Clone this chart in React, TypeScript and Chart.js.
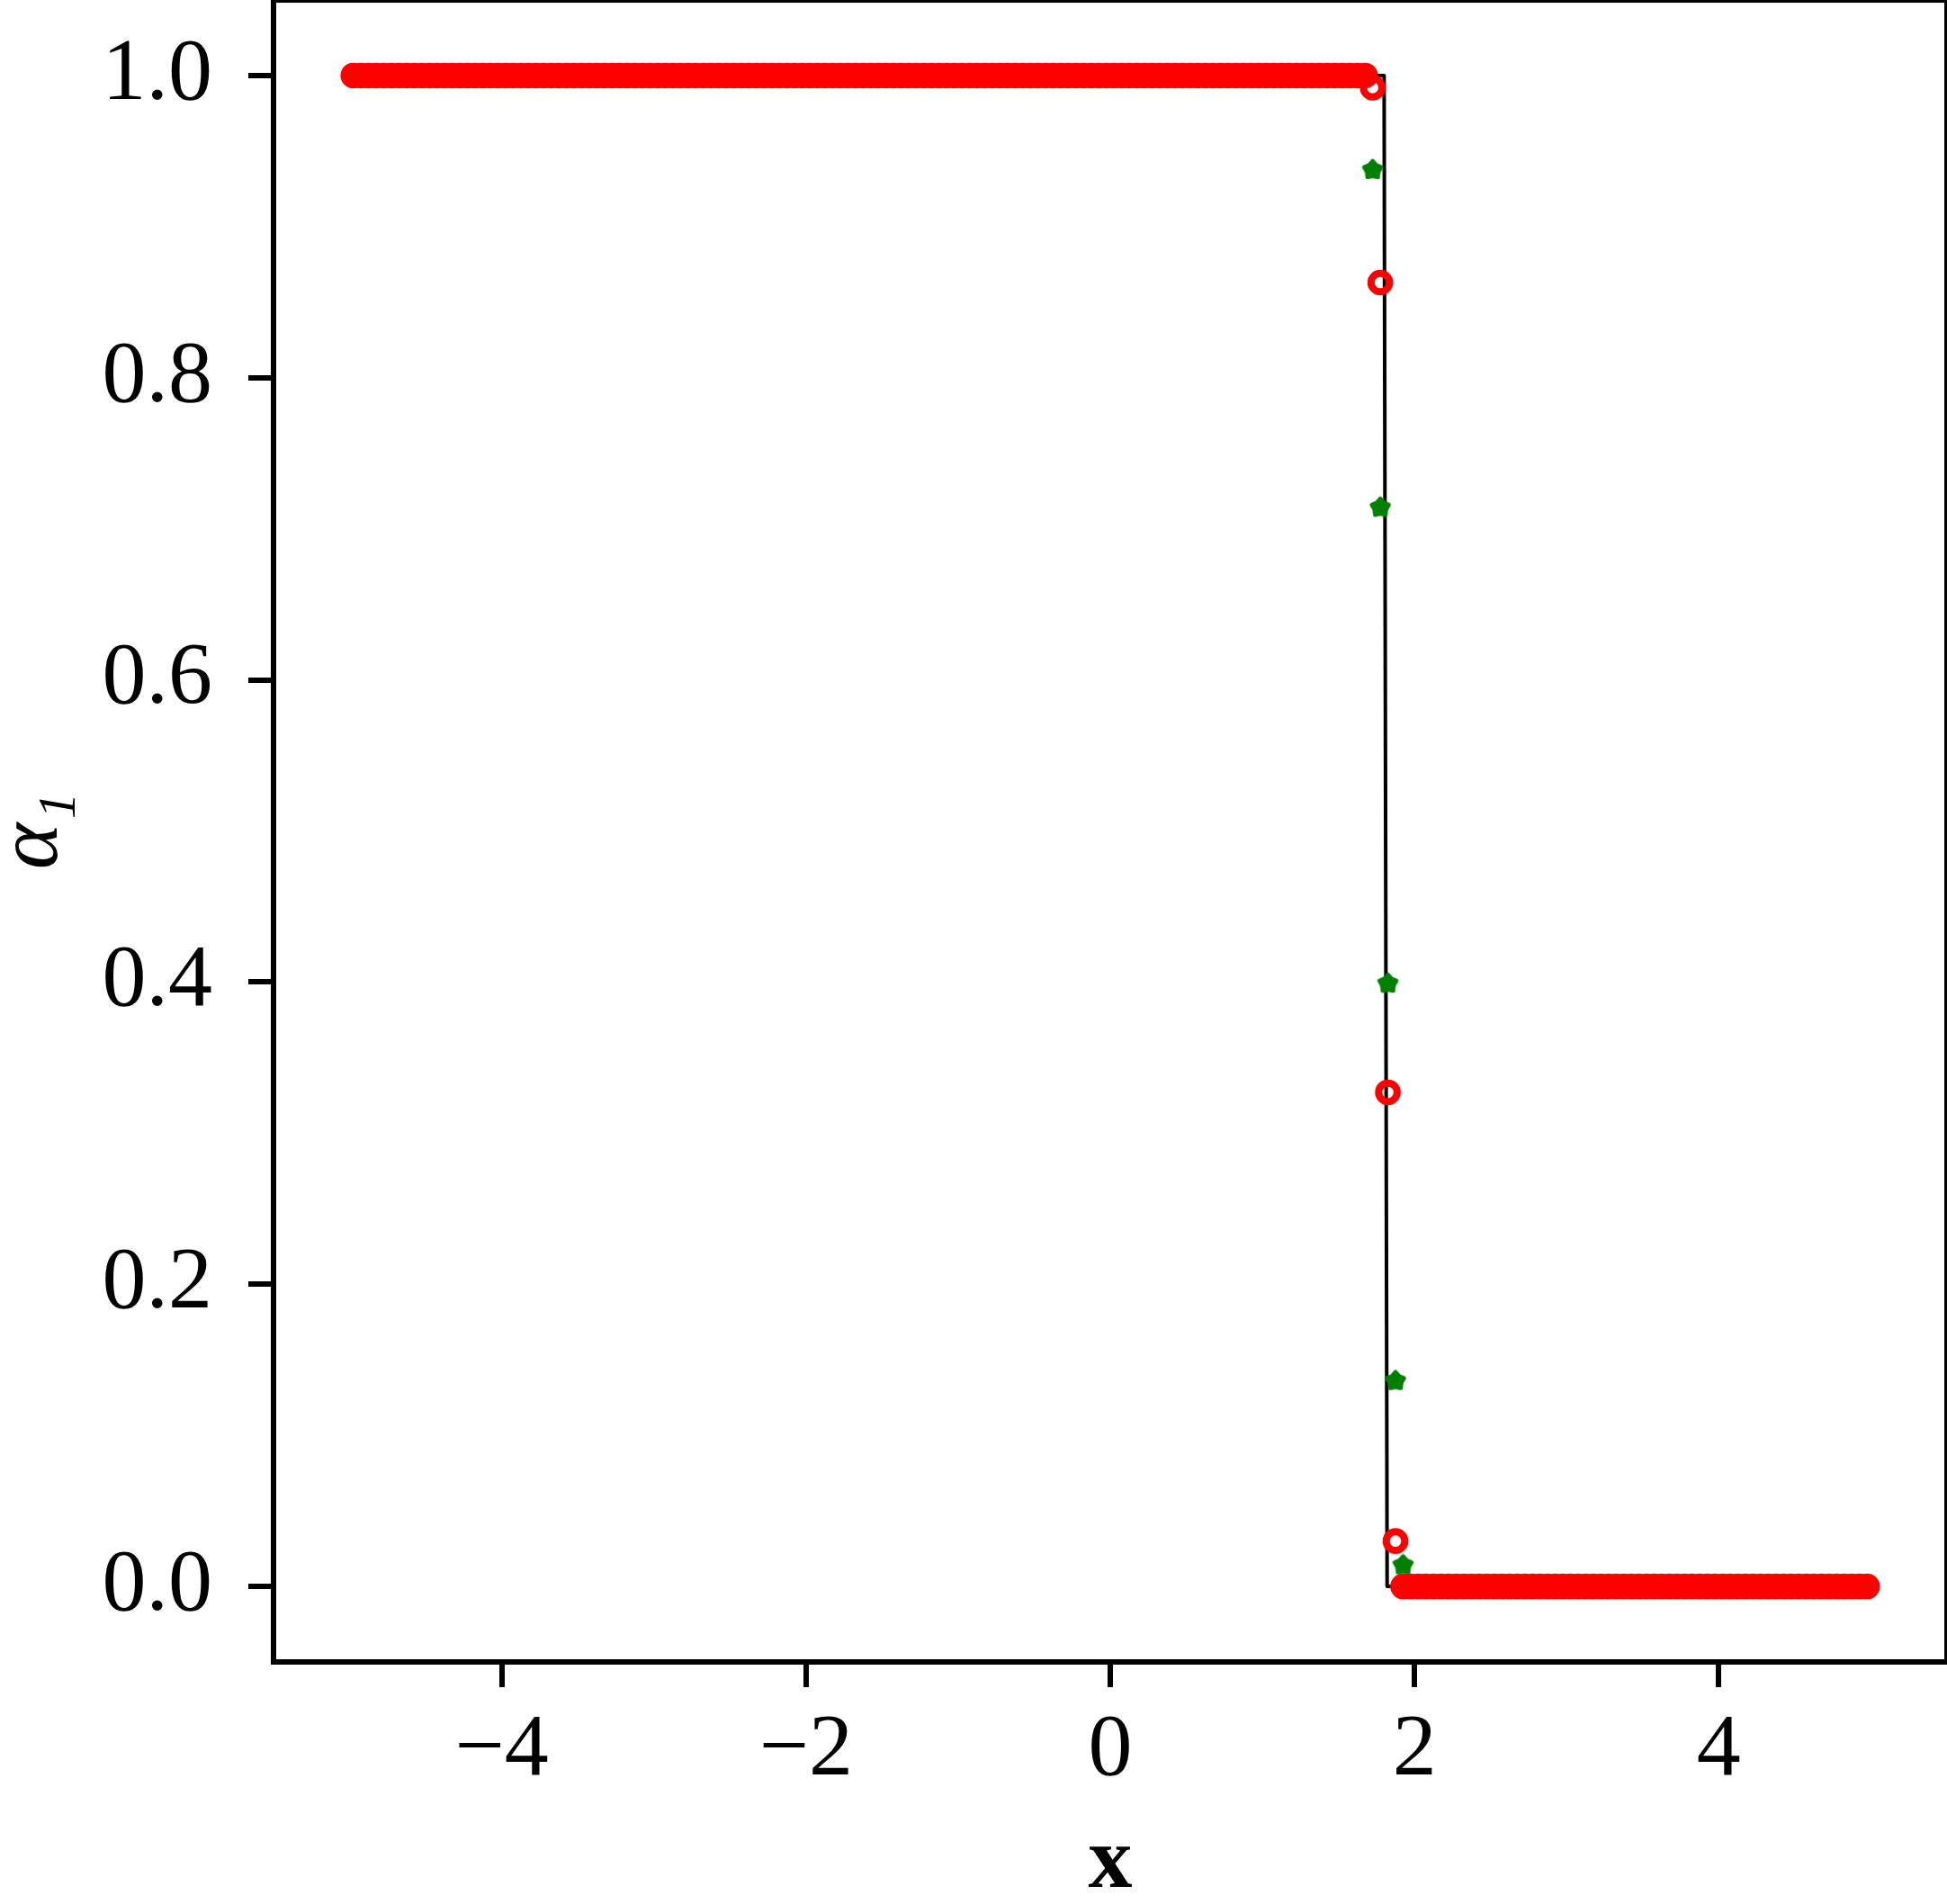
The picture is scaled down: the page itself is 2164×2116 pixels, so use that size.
import React, { useEffect, useRef } from "react";
import { Chart, registerables } from "chart.js";

Chart.register(...registerables);

// Cell centres of the numerical grid
const cellX = [
  -4.975, -4.925, -4.875, -4.825, -4.775, -4.725, -4.675, -4.625, -4.575, -4.525,
  -4.475, -4.425, -4.375, -4.325, -4.275, -4.225, -4.175, -4.125, -4.075, -4.025,
  -3.975, -3.925, -3.875, -3.825, -3.775, -3.725, -3.675, -3.625, -3.575, -3.525,
  -3.475, -3.425, -3.375, -3.325, -3.275, -3.225, -3.175, -3.125, -3.075, -3.025,
  -2.975, -2.925, -2.875, -2.825, -2.775, -2.725, -2.675, -2.625, -2.575, -2.525,
  -2.475, -2.425, -2.375, -2.325, -2.275, -2.225, -2.175, -2.125, -2.075, -2.025,
  -1.975, -1.925, -1.875, -1.825, -1.775, -1.725, -1.675, -1.625, -1.575, -1.525,
  -1.475, -1.425, -1.375, -1.325, -1.275, -1.225, -1.175, -1.125, -1.075, -1.025,
  -0.975, -0.925, -0.875, -0.825, -0.775, -0.725, -0.675, -0.625, -0.575, -0.525,
  -0.475, -0.425, -0.375, -0.325, -0.275, -0.225, -0.175, -0.125, -0.075, -0.025,
  0.025, 0.075, 0.125, 0.175, 0.225, 0.275, 0.325, 0.375, 0.425, 0.475,
  0.525, 0.575, 0.625, 0.675, 0.725, 0.775, 0.825, 0.875, 0.925, 0.975,
  1.025, 1.075, 1.125, 1.175, 1.225, 1.275, 1.325, 1.375, 1.425, 1.475,
  1.525, 1.575, 1.625, 1.675, 1.725, 1.775, 1.825, 1.875, 1.925, 1.975,
  2.025, 2.075, 2.125, 2.175, 2.225, 2.275, 2.325, 2.375, 2.425, 2.475,
  2.525, 2.575, 2.625, 2.675, 2.725, 2.775, 2.825, 2.875, 2.925, 2.975,
  3.025, 3.075, 3.125, 3.175, 3.225, 3.275, 3.325, 3.375, 3.425, 3.475,
  3.525, 3.575, 3.625, 3.675, 3.725, 3.775, 3.825, 3.875, 3.925, 3.975,
  4.025, 4.075, 4.125, 4.175, 4.225, 4.275, 4.325, 4.375, 4.425, 4.475,
  4.525, 4.575, 4.625, 4.675, 4.725, 4.775, 4.825, 4.875, 4.925, 4.975,
];

// Red open circles
const alphaRed = [
  1, 1, 1, 1, 1, 1, 1, 1, 1, 1,
  1, 1, 1, 1, 1, 1, 1, 1, 1, 1,
  1, 1, 1, 1, 1, 1, 1, 1, 1, 1,
  1, 1, 1, 1, 1, 1, 1, 1, 1, 1,
  1, 1, 1, 1, 1, 1, 1, 1, 1, 1,
  1, 1, 1, 1, 1, 1, 1, 1, 1, 1,
  1, 1, 1, 1, 1, 1, 1, 1, 1, 1,
  1, 1, 1, 1, 1, 1, 1, 1, 1, 1,
  1, 1, 1, 1, 1, 1, 1, 1, 1, 1,
  1, 1, 1, 1, 1, 1, 1, 1, 1, 1,
  1, 1, 1, 1, 1, 1, 1, 1, 1, 1,
  1, 1, 1, 1, 1, 1, 1, 1, 1, 1,
  1, 1, 1, 1, 1, 1, 1, 1, 1, 1,
  1, 1, 1, 1, 0.992, 0.863, 0.327, 0.03, 0, 0,
  0, 0, 0, 0, 0, 0, 0, 0, 0, 0,
  0, 0, 0, 0, 0, 0, 0, 0, 0, 0,
  0, 0, 0, 0, 0, 0, 0, 0, 0, 0,
  0, 0, 0, 0, 0, 0, 0, 0, 0, 0,
  0, 0, 0, 0, 0, 0, 0, 0, 0, 0,
  0, 0, 0, 0, 0, 0, 0, 0, 0, 0,
];

// Green stars
const alphaGreen = [
  1, 1, 1, 1, 1, 1, 1, 1, 1, 1,
  1, 1, 1, 1, 1, 1, 1, 1, 1, 1,
  1, 1, 1, 1, 1, 1, 1, 1, 1, 1,
  1, 1, 1, 1, 1, 1, 1, 1, 1, 1,
  1, 1, 1, 1, 1, 1, 1, 1, 1, 1,
  1, 1, 1, 1, 1, 1, 1, 1, 1, 1,
  1, 1, 1, 1, 1, 1, 1, 1, 1, 1,
  1, 1, 1, 1, 1, 1, 1, 1, 1, 1,
  1, 1, 1, 1, 1, 1, 1, 1, 1, 1,
  1, 1, 1, 1, 1, 1, 1, 1, 1, 1,
  1, 1, 1, 1, 1, 1, 1, 1, 1, 1,
  1, 1, 1, 1, 1, 1, 1, 1, 1, 1,
  1, 1, 1, 1, 1, 1, 1, 1, 1, 1,
  1, 1, 1, 1, 0.9375, 0.714, 0.399, 0.136, 0.014, 0,
  0, 0, 0, 0, 0, 0, 0, 0, 0, 0,
  0, 0, 0, 0, 0, 0, 0, 0, 0, 0,
  0, 0, 0, 0, 0, 0, 0, 0, 0, 0,
  0, 0, 0, 0, 0, 0, 0, 0, 0, 0,
  0, 0, 0, 0, 0, 0, 0, 0, 0, 0,
  0, 0, 0, 0, 0, 0, 0, 0, 0, 0,
];

// Exact solution (black line)
const exactX = [-5, 1.8, 1.82, 5];
const exactY = [1, 1, 0, 0];

const xTicks = [-4, -2, 0, 2, 4];
const xTickLabels = ["\u22124", "\u22122", "0", "2", "4"];
const yTicks = [0, 0.2, 0.4, 0.6, 0.8, 1.0];
const yTickLabels = ["0.0", "0.2", "0.4", "0.6", "0.8", "1.0"];
const xRange = [-5.5, 5.5];
const yRange = [-0.05, 1.05];

const FONT = "'Liberation Serif', 'DejaVu Serif', serif";

function makeStar(color: string): HTMLCanvasElement {
  const c = document.createElement("canvas");
  c.width = 30;
  c.height = 30;
  const ctx = c.getContext("2d")!;
  ctx.beginPath();
  for (let k = 0; k < 10; k++) {
    const r = k % 2 === 0 ? 10 : 6.8;
    const a = -Math.PI / 2 + (k * Math.PI) / 5;
    const px = 15 + r * Math.cos(a);
    const py = 15 + r * Math.sin(a);
    if (k === 0) ctx.moveTo(px, py);
    else ctx.lineTo(px, py);
  }
  ctx.closePath();
  ctx.fillStyle = color;
  ctx.fill();
  ctx.lineWidth = 4.5;
  ctx.lineJoin = "round";
  ctx.strokeStyle = color;
  ctx.stroke();
  return c;
}

const framePlugin = {
  id: "frame",
  afterDatasetsDraw(chart: any) {
    const { ctx, chartArea } = chart;
    ctx.save();
    ctx.lineWidth = 6;
    ctx.strokeStyle = "#000";
    ctx.strokeRect(chartArea.left, chartArea.top, chartArea.right - chartArea.left, chartArea.bottom - chartArea.top);
    ctx.restore();
  },
};

function zeroPad(s: any) {
  s.paddingTop = 0;
  s.paddingBottom = 0;
  s.paddingLeft = 0;
  s.paddingRight = 0;
}

export default function App() {
  const ref = useRef<HTMLCanvasElement>(null);
  useEffect(() => {
    document.body.style.margin = "0";
    const canvas = ref.current!;
    const star = makeStar("#008000");
    const chart = new Chart(canvas, {
      type: "scatter",
      data: {
        datasets: [
          {
            label: "red",
            data: cellX.map((x, i) => ({ x, y: alphaRed[i] })),
            pointStyle: "circle",
            pointRadius: 10.3,
            borderWidth: 8,
            borderColor: "#ff0000",
            backgroundColor: "rgba(0,0,0,0)",
            showLine: false,
          },
          {
            label: "green",
            data: cellX.map((x, i) => ({ x, y: alphaGreen[i] })),
            pointStyle: star as any,
            pointRadius: 12,
            borderColor: "#008000",
            backgroundColor: "#008000",
            showLine: false,
          },
          {
            label: "exact",
            type: "line",
            data: exactX.map((x, i) => ({ x, y: exactY[i] })),
            borderColor: "#000",
            borderWidth: 4,
            pointRadius: 0,
            showLine: true,
            tension: 0,
            fill: false,
            borderJoinStyle: "round",
          } as any,
        ],
      },
      options: {
        responsive: false,
        animation: false,
        devicePixelRatio: 1,
        events: [],
        layout: { autoPadding: false, padding: { top: -1, right: -1, left: 0, bottom: 0 } },
        plugins: { legend: { display: false }, tooltip: { enabled: false } },
        scales: {
          x: {
            type: "linear",
            min: xRange[0],
            max: xRange[1],
            afterBuildTicks: (s: any) => {
              s.ticks = xTicks.map((v) => ({ value: v }));
            },
            afterFit: (s: any) => {
              s.height = 269;
              zeroPad(s);
            },
            grid: { drawOnChartArea: false, drawTicks: true, tickLength: 28, lineWidth: 6, color: "#000" },
            border: { display: false },
            ticks: {
              callback: (_v: any, i: number) => xTickLabels[i],
              font: { family: FONT, size: 98 },
              color: "#000",
              padding: 12,
              maxRotation: 0,
              autoSkip: false,
            },
            title: {
              display: true,
              text: "x",
              color: "#000",
              font: { family: FONT, size: 98, weight: "bold", lineHeight: 0.85 },
              padding: { top: 0, bottom: 2.5 },
            },
          },
          y: {
            type: "linear",
            min: yRange[0],
            max: yRange[1],
            afterBuildTicks: (s: any) => {
              s.ticks = yTicks.map((v) => ({ value: v }));
            },
            afterFit: (s: any) => {
              s.width = 304;
              zeroPad(s);
            },
            grid: { drawOnChartArea: false, drawTicks: true, tickLength: 28, lineWidth: 6, color: "#000" },
            border: { display: false },
            ticks: {
              callback: (_v: any, i: number) => yTickLabels[i],
              font: { family: FONT, size: 98 },
              color: "#000",
              padding: 40,
              autoSkip: false,
            },
            title: {
              display: true,
              text: "\u03b1\u2081",
              color: "#000",
              font: { family: FONT, size: 98, style: "italic", lineHeight: 0.75 },
              padding: { top: 0, bottom: 0 },
            },
          },
        },
      },
      plugins: [framePlugin],
    } as any);
    return () => chart.destroy();
  }, []);
  return (
    <canvas
      ref={ref}
      width={2164}
      height={2116}
      style={{ display: "block", width: "2164px", height: "2116px" }}
    />
  );
}
